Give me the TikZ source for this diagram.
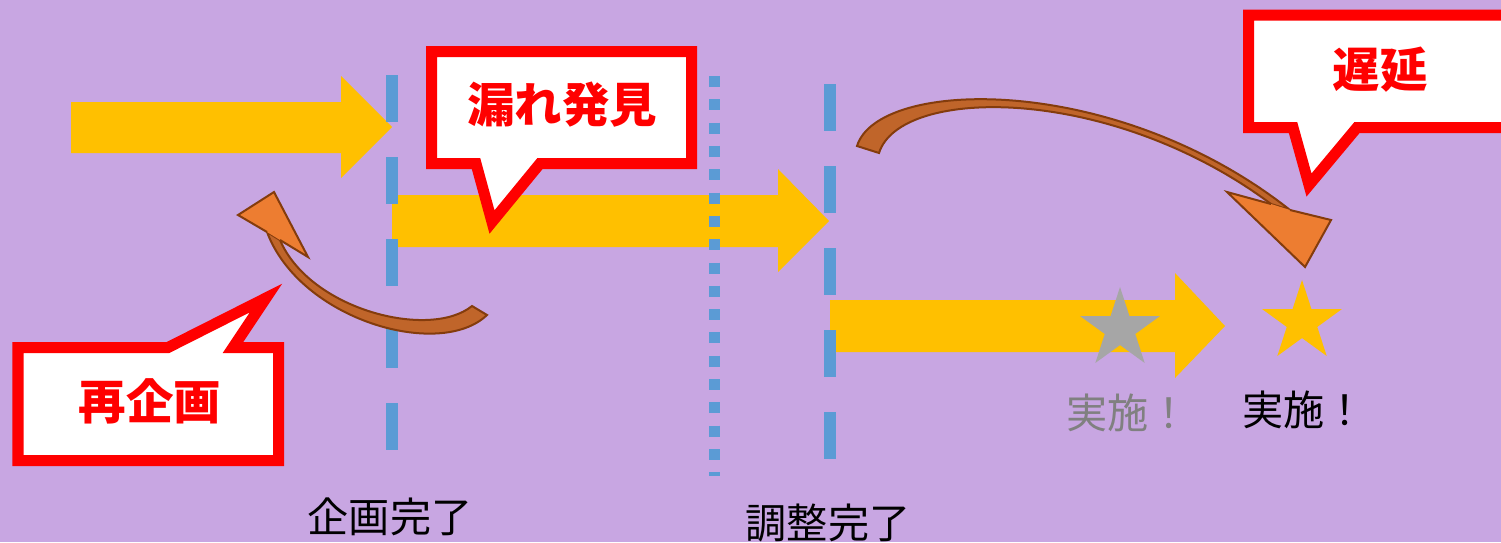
\documentclass[tikz,border=0pt]{standalone}
\usepackage{fontspec}
\setmainfont{Noto Sans CJK JP}
\usetikzlibrary{shapes.geometric}

\definecolor{bgpurple}{RGB}{200,166,226}
\definecolor{arrowyellow}{RGB}{255,192,0}
\definecolor{lineblue}{RGB}{91,155,213}
\definecolor{shaftbrown}{RGB}{192,101,42}
\definecolor{headorange}{RGB}{237,125,49}
\definecolor{edgebrown}{RGB}{132,60,12}
\definecolor{stargray}{RGB}{166,166,166}
\definecolor{textgray}{RGB}{128,128,128}

\begin{document}
\begin{tikzpicture}[x=0.01cm, y=-0.01cm]
	\tikzset{bubble/.style = {draw=red, fill=white, line width=0.11cm, line join=miter, miter limit=20}}
	\tikzset{bubbletext/.style = {text=red, inner sep=0pt, font=\fontsize{13.5}{16}\selectfont\bfseries}}
	\tikzset{label/.style = {inner sep=0pt, font=\fontsize{11.7}{14}\selectfont}}
	\tikzset{blockarrow/.style = {fill=arrowyellow}}
	\tikzset{milestone/.style = {lineblue, line width=0.115cm, dash pattern=on 0.47cm off 0.35cm}}
	\tikzset{shaft/.style = {fill=shaftbrown, draw=edgebrown, line width=0.02cm}}
	\tikzset{tip/.style = {fill=headorange}}
	\tikzset{tipedge/.style = {draw=edgebrown, line width=0.02cm, line join=miter}}
	\tikzset{mark5/.style = {star, star points=5, star point ratio=2.618, minimum size=0.84cm, inner sep=0pt}}

	\useasboundingbox (0,0) rectangle (1501,542);
	\fill[bgpurple] (0,0) rectangle (1501,542);
	\clip (0,0) rectangle (1501,542);

	% block arrows
	\fill[blockarrow] (71,102) -- (341,102) -- (341,76) -- (392,127) -- (341,178) -- (341,153) -- (71,153) -- cycle;
	\fill[blockarrow] (392,195) -- (778,195) -- (778,169) -- (829,221) -- (778,272) -- (778,247) -- (392,247) -- cycle;
	\fill[blockarrow] (830,300) -- (1175,300) -- (1175,273) -- (1225,326) -- (1175,378) -- (1175,352) -- (830,352) -- cycle;

	% milestones
	\draw[milestone] (392,75) -- (392,450);
	\draw[milestone] (830,84) -- (830,459);
	\draw[lineblue, line width=0.11cm, dash pattern=on 0.11cm off 0.123cm] (714.5,76) -- (714.5,476);

	% stars
	\node[mark5, fill=stargray] (star_old) at (1120,329) {};
	\node[mark5, fill=arrowyellow] (star_new) at (1302,322) {};

	% callouts
	\draw[bubble] (431.5,51.5) -- (691.5,51.5) -- (691.5,163.5) -- (540,163.5) -- (492,222) -- (476,163.5) -- (431.5,163.5) -- cycle;
	\draw[bubble] (18,347.5) -- (168,347.5) -- (266,298) -- (233,347.5) -- (278.5,347.5) -- (278.5,460.5) -- (18,460.5) -- cycle;
	\draw[bubble] (1248.5,15) -- (1560,15) -- (1560,127.5) -- (1357,127.5) -- (1309,185) -- (1293,127.5) -- (1248.5,127.5) -- cycle;

	\node[bubbletext] (leak) at (562,105) {漏れ発見};
	\node[bubbletext] (replan) at (150,401) {再企画};
	\node[bubbletext] (delay) at (1380,70) {遅延};

	% curved arrows
	\coordinate (replan_tip) at (274,192);
	\fill[shaft] (267,232) .. controls (300,320) and (440,360) .. (487,315) -- (472,306) .. controls (430,340) and (310,310) .. (280,240) -- cycle;
	\fill[tip] (267,232) -- (238,215) -- (replan_tip) -- (308,257) -- (280,240) -- cycle;
	\draw[tipedge] (267,232) -- (238,215) -- (replan_tip) -- (308,257) -- (280,240);

	\coordinate (delay_tip) at (1305,267);
	\fill[shaft] (857,146) .. controls (878,78) and (1115,72) .. (1290,210) -- (1271,204) .. controls (1110,84) and (900,86) .. (879,153) -- cycle;
	\fill[tip] (1271,204) -- (1227,192) -- (delay_tip) -- (1331,220) -- (1290,210) -- cycle;
	\draw[tipedge] (1271,204) -- (1227,192) -- (delay_tip) -- (1331,220) -- (1290,210);

	% labels
	\node[label, text=textgray] (done_old) at (1128,413) {実施！};
	\node[label] (done_new) at (1304,410) {実施！};
	\node[label] (plan_end) at (390,517) {企画完了};
	\node[label] (adjust_end) at (828,523) {調整完了};
\end{tikzpicture}
\end{document}
